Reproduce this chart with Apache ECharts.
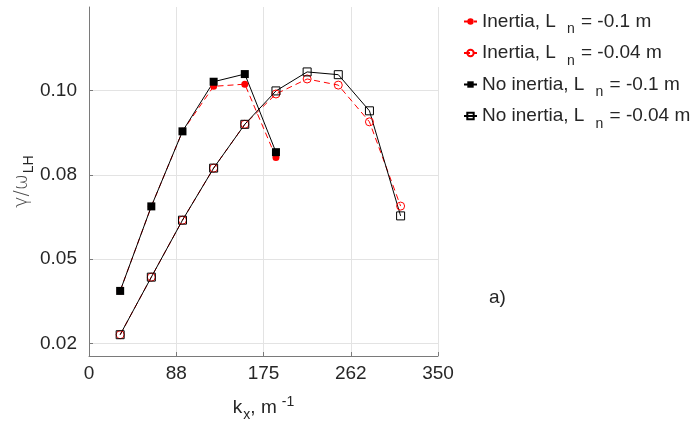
<!DOCTYPE html>
<html>
<head>
<meta charset="utf-8">
<script src="https://cdn.jsdelivr.net/npm/echarts@6/dist/echarts.min.js"></script>
<style>
  html, body { margin: 0; padding: 0; background: #fff; }
  #chart { width: 696px; height: 421px; }
</style>
</head>
<body>
<div id="chart"></div>
<script>
// k_x values (m^-1) and growth rates
const kx = [31.25, 62.5, 93.75, 125, 156.25, 187.5, 218.75, 250, 281.25, 312.5];
const inertia01 = [0.0371, 0.0647, 0.0892, 0.1039, 0.1046, 0.0807];
const inertia004 = [0.0228, 0.0416, 0.0602, 0.0772, 0.0915, 0.1014, 0.1063, 0.1043, 0.0923, 0.0648];
const noInertia01 = [0.0371, 0.0647, 0.0892, 0.1054, 0.1079, 0.0824];
const noInertia004 = [0.0228, 0.0416, 0.0602, 0.0772, 0.0915, 0.1024, 0.1086, 0.1077, 0.0959, 0.0616];

const xTickValues = [0, 87.5, 175, 262.5, 350];
const xTickLabels = ['0', '88', '175', '262', '350'];
const yTickValues = [0.02, 0.0475, 0.075, 0.1025];
const yTickLabels = ['0.02', '0.05', '0.08', '0.10'];

const seriesNames = [
  'Inertia, L|= -0.1 m',
  'Inertia, L|= -0.04 m',
  'No inertia, L|= -0.1 m',
  'No inertia, L|= -0.04 m',
];

const FONT = 'Liberation Sans, Arial, Helvetica, sans-serif';
const TXT = '#262626';

function pts(vals) {
  return vals.map((v, i) => [kx[i], v]);
}

const chart = echarts.init(document.getElementById('chart'), null, { renderer: 'canvas' });

const option = {
  animation: false,
  backgroundColor: '#fff',
  textStyle: { fontFamily: FONT },
  grid: { left: 89, right: 258, top: 7, bottom: 65, containLabel: false, outerBoundsMode: 'none' },
  legend: {
    orient: 'vertical',
    left: 458,
    top: 7,
    itemWidth: 13,
    itemHeight: 8,
    itemGap: 7,
    formatter: function (name) {
      const parts = name.split('|');
      return '{a|' + parts[0] + '}{s|n}{a| ' + parts[1] + '}';
    },
    textStyle: {
      fontFamily: FONT,
      rich: {
        a: { fontSize: 19, color: TXT, fontFamily: FONT },
        s: { fontSize: 14, color: TXT, fontFamily: FONT, padding: [16, 1, 0, 11] },
      },
    },
  },
  xAxis: {
    type: 'value',
    min: 0,
    max: 350,
    interval: 87.5,
    name: '{a|k}{s|x}{a|, m}{p|-1}',
    nameLocation: 'middle',
    nameGap: 38,
    nameMoveOverlap: false,
    nameTextStyle: {
      rich: {
        a: { fontSize: 19, color: TXT, fontFamily: FONT },
        s: { fontSize: 14, color: TXT, fontFamily: FONT, padding: [14, 0, 0, 1] },
        p: { fontSize: 14, color: TXT, fontFamily: FONT, padding: [0, 0, 12, 5] },
      },
    },
    axisLine: { lineStyle: { color: '#7a7a7a', width: 1 } },
    axisTick: { inside: true, length: 4, lineStyle: { color: '#7a7a7a' } },
    axisLabel: {
      margin: 8,
      fontSize: 19,
      color: TXT,
      fontFamily: FONT,
      formatter: function (v) {
        const i = xTickValues.indexOf(v);
        return i >= 0 ? xTickLabels[i] : '';
      },
    },
    splitLine: { show: true, lineStyle: { color: '#e3e3e3', width: 1 } },
  },
  yAxis: {
    type: 'value',
    min: 0.01585,
    max: 0.1298,
    name: '{a|γ/ω}{s|LH}',
    nameLocation: 'middle',
    nameGap: 53,
    nameMoveOverlap: false,
    nameTextStyle: {
      rich: {
        a: { fontSize: 19, color: '#4a4a4a', fontFamily: 'DejaVu Sans, ' + FONT, fontWeight: 'lighter' },
        s: { fontSize: 14, color: TXT, fontFamily: FONT, padding: [14, 0, 0, 1] },
      },
    },
    axisLine: { show: true, lineStyle: { color: '#7a7a7a', width: 1 } },
    axisTick: { show: true, inside: true, length: 4, customValues: yTickValues, lineStyle: { color: '#7a7a7a' } },
    axisLabel: {
      margin: 12,
      fontSize: 19,
      color: TXT,
      fontFamily: FONT,
      customValues: yTickValues,
      formatter: function (v) {
        let best = 0;
        yTickValues.forEach((t, i) => { if (Math.abs(t - v) < Math.abs(yTickValues[best] - v)) best = i; });
        return yTickLabels[best];
      },
    },
    splitLine: { show: true, lineStyle: { color: '#e3e3e3', width: 1 } },
  },
  graphic: [
    {
      type: 'text',
      left: 489,
      top: 288,
      style: { text: 'a)', fontSize: 19, fill: TXT, fontFamily: FONT },
    },
  ],
  series: [
    {
      name: seriesNames[0],
      type: 'line',
      data: pts(inertia01),
      symbol: 'circle',
      symbolSize: 7,
      itemStyle: { color: '#ff0000' },
      lineStyle: { color: '#ff0000', width: 1, type: [6, 4] },
    },
    {
      name: seriesNames[1],
      type: 'line',
      data: pts(inertia004),
      symbol: 'circle',
      symbolSize: 8,
      itemStyle: { color: 'rgba(0,0,0,0)', borderColor: '#ff0000', borderWidth: 1 },
      lineStyle: { color: '#ff0000', width: 1, type: [6, 4] },
    },
    {
      name: seriesNames[2],
      type: 'line',
      data: pts(noInertia01),
      symbol: 'rect',
      symbolSize: 8,
      itemStyle: { color: '#000' },
      lineStyle: { color: '#000', width: 1 },
    },
    {
      name: seriesNames[3],
      type: 'line',
      data: pts(noInertia004),
      symbol: 'rect',
      symbolSize: 8,
      itemStyle: { color: 'rgba(0,0,0,0)', borderColor: '#000', borderWidth: 1 },
      lineStyle: { color: '#000', width: 1 },
    },
  ],
};

chart.setOption(option);
</script>
</body>
</html>
